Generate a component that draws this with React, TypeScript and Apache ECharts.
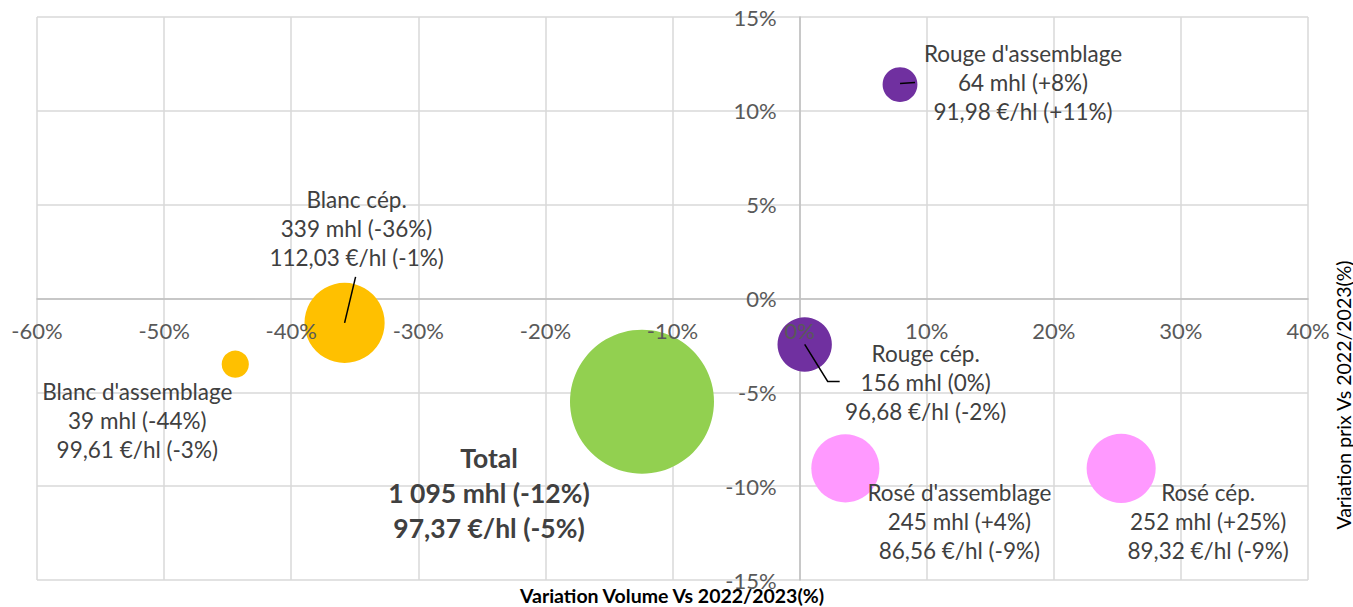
import React, { useEffect, useRef } from "react";
import * as echarts from "echarts";

// ---- Data ----
const names = [
  "Rouge d'assemblage",
  "Blanc cép.",
  "Blanc d'assemblage",
  "Total",
  "Rouge cép.",
  "Rosé d'assemblage",
  "Rosé cép.",
];
const volumes = [64, 339, 39, 1095, 156, 245, 252]; // mhl
const volumeVar = [7.9, -35.8, -44.4, -12.4, 0.4, 3.6, 25.3]; // x, %
const priceVar = [11.4, -1.3, -3.5, -5.5, -2.45, -9.05, -9.05]; // y, %
const prices = ["91,98", "112,03", "99,61", "97,37", "96,68", "86,56", "89,32"];
const volumeVarLabels = ["+8%", "-36%", "-44%", "-12%", "0%", "+4%", "+25%"];
const priceVarLabels = ["+11%", "-1%", "-3%", "-5%", "-2%", "-9%", "-9%"];
const colors = ["#7030a0", "#ffc000", "#ffc000", "#92d050", "#7030a0", "#ff99ff", "#ff99ff"];
const xTicks = { min: -60, max: 40, interval: 10 };
const yTicks = { min: -15, max: 15, interval: 5 };
const xTickValues = [-60, -50, -40, -30, -20, -10, 0, 10, 20, 30, 40];
const yTickValues = [-15, -10, -5, 0, 5, 10, 15];
const xTitle = "Variation Volume Vs 2022/2023(%)";
const yTitle = "Variation prix Vs 2022/2023(%)";

// ---- Layout (pixels) ----
const labelOffsets: [number, number][] = [
  [123, -2],
  [12, -94],
  [-98, 56],
  [-153, 91],
  [121, 38],
  [114, 53],
  [87, 53],
];
const leaderPaths: Record<number, [number, number][]> = {
  0: [[0, -1], [15, -2]],
  1: [[0, 0], [11, -46]],
  4: [[0, 0], [23, 37], [35, 37]],
};
const SIZE_K = 144 / Math.sqrt(1095);
const FONT = "Lato, 'Open Sans', sans-serif";
const X_LABEL_DY = 32;
const Y_LABEL_DX = -23;

function fmtVol(v: number) {
  return String(v).replace(/\B(?=(\d{3})+(?!\d))/g, " ");
}

export default function App() {
  const ref = useRef<HTMLDivElement>(null);
  useEffect(() => {
    const chart = echarts.init(ref.current!, null, { renderer: "svg" });
    const scatterData = names.map((n, i) => ({
      name: n,
      value: [volumeVar[i], priceVar[i], volumes[i]],
      itemStyle: { color: colors[i], opacity: 1 },
      label:
        i === 3
          ? { offset: labelOffsets[i], fontWeight: "bold", fontSize: 26.5, lineHeight: 35 }
          : { offset: labelOffsets[i] },
    }));
    const leaderData = Object.keys(leaderPaths).map((k) => {
      const i = Number(k);
      return [volumeVar[i], priceVar[i], i];
    });
    const tickLabelStyle = {
      fill: "#595959",
      font: `22px ${FONT}`,
    };
    const option: any = {
      animation: false,
      textStyle: { fontFamily: FONT },
      grid: { left: 37, right: 45, top: 17, bottom: 27, containLabel: false, outerBoundsMode: "none" },
      xAxis: {
        type: "value",
        ...xTicks,
        axisLine: { show: true, onZero: true, lineStyle: { color: "#bfbfbf", width: 1.5 } },
        axisTick: { show: false },
        axisLabel: { show: false },
        splitLine: { show: true, lineStyle: { color: "#d9d9d9", width: 1.5 } },
      },
      yAxis: {
        type: "value",
        ...yTicks,
        axisLine: { show: true, onZero: true, lineStyle: { color: "#bfbfbf", width: 1.5 } },
        axisTick: { show: false },
        axisLabel: { show: false },
        splitLine: { show: true, lineStyle: { color: "#d9d9d9", width: 1.5 } },
      },
      series: [
        {
          type: "scatter",
          z: 2,
          symbol: "circle",
          symbolSize: (val: number[]) => SIZE_K * Math.sqrt(val[2]),
          data: scatterData,
          label: {
            show: true,
            position: "inside",
            align: "center",
            verticalAlign: "middle",
            color: "#404040",
            fontSize: 22.5,
            lineHeight: 29,
            fontFamily: FONT,
            formatter: (p: any) => {
              const i = p.dataIndex;
              return `${names[i]}\n${fmtVol(volumes[i])} mhl (${volumeVarLabels[i]})\n${prices[i]} €/hl (${priceVarLabels[i]})`;
            },
          },
          emphasis: { disabled: true },
        },
        {
          type: "custom",
          z: 3,
          silent: true,
          data: leaderData,
          renderItem: (params: any, api: any) => {
            const c = api.coord([api.value(0), api.value(1)]);
            const idx = api.value(2);
            const pts = leaderPaths[idx].map(([dx, dy]) => [c[0] + dx, c[1] + dy]);
            return {
              type: "polyline",
              shape: { points: pts },
              style: { stroke: "#000", lineWidth: 1.5, fill: null },
            };
          },
        },
        {
          type: "custom",
          z: 10,
          silent: true,
          data: xTickValues.map((v) => [v, 0]),
          renderItem: (params: any, api: any) => {
            const c = api.coord([api.value(0), api.value(1)]);
            return {
              type: "text",
              x: c[0],
              y: c[1] + X_LABEL_DY,
              style: { ...tickLabelStyle, text: `${api.value(0)}%`, textAlign: "center", textVerticalAlign: "middle" },
            };
          },
        },
        {
          type: "custom",
          z: 10,
          silent: true,
          data: yTickValues.map((v) => [0, v]),
          renderItem: (params: any, api: any) => {
            const c = api.coord([api.value(0), api.value(1)]);
            return {
              type: "text",
              x: c[0] + Y_LABEL_DX,
              y: c[1],
              style: { ...tickLabelStyle, text: `${api.value(1)}%`, textAlign: "right", textVerticalAlign: "middle" },
            };
          },
        },
      ],
      graphic: [
        {
          type: "text",
          x: 672,
          y: 595,
          style: {
            text: xTitle,
            font: `bold 19.5px ${FONT}`,
            fill: "#000",
            textAlign: "center",
            textVerticalAlign: "middle",
          },
        },
        {
          type: "text",
          x: 1343,
          y: 395,
          rotation: Math.PI / 2,
          style: {
            text: yTitle,
            font: `19.5px ${FONT}`,
            fill: "#000",
            textAlign: "center",
            textVerticalAlign: "middle",
          },
        },
      ],
    };
    chart.setOption(option);
    return () => chart.dispose();
  }, []);
  return (
    <div
      ref={ref}
      style={{ position: "absolute", left: 0, top: 0, width: 1353, height: 607 }}
    />
  );
}
